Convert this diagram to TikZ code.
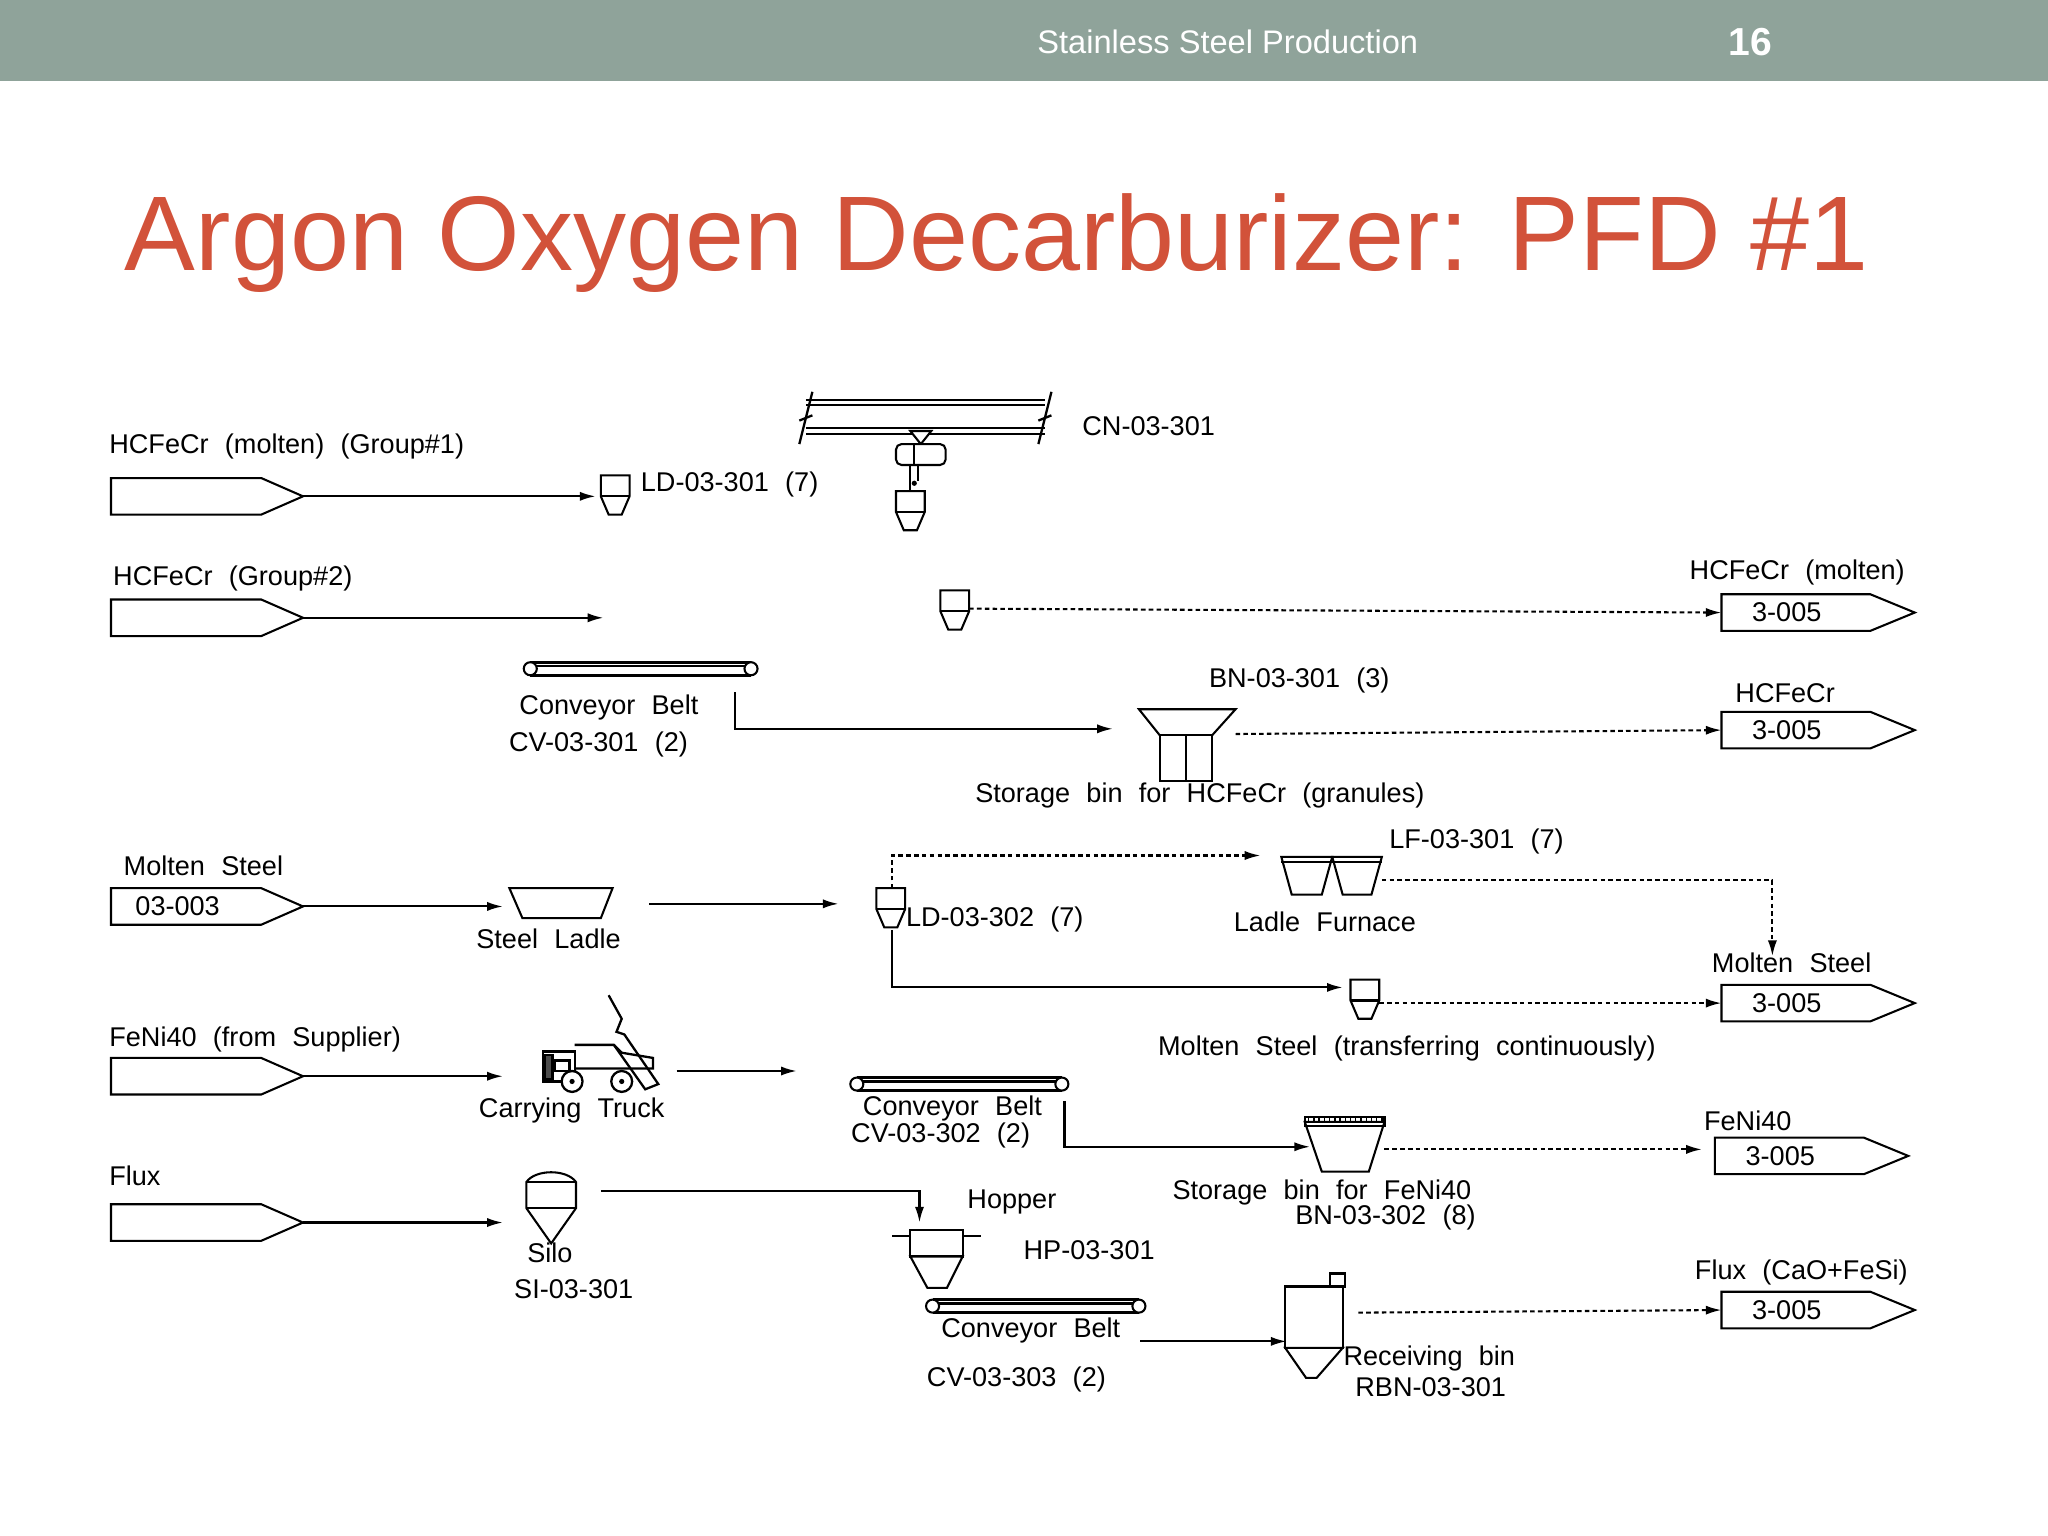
\documentclass[tikz,border=0pt]{standalone}
\usepackage{fontspec}
\setmainfont{Liberation Sans}
\usetikzlibrary{arrows.meta}
\definecolor{hdr}{HTML}{8FA39A}
\definecolor{ttl}{HTML}{D2523A}
\newcommand{\lblfont}{\fontsize{5.9}{6.7}\selectfont\spaceskip=0.6em\relax}
\tikzset{
  lbl/.style={anchor=west,inner sep=0pt,font=\lblfont},
  eq/.style={draw=black,line width=0.45pt,fill=white},
  flow/.style={draw=black,line width=0.45pt,-{Latex[length=0.12cm,width=0.07cm]}},
  dflow/.style={flow,dash pattern=on 1pt off 0.7pt},
}
\newcommand{\feedshape}[3]{% name, y, text
  \draw[eq] (85,#2-14)--(200,#2-14)--(232,#2)--(200,#2+14)--(85,#2+14)--cycle;
  \node[lbl] at (103,#2) {#3};
  \coordinate (#1) at (232,#2);}
\newcommand{\outshape}[3]{% name, y, x
  \draw[eq] (#3,#2-14)--(#3+114,#2-14)--(#3+148,#2)--(#3+114,#2+14)--(#3,#2+14)--cycle;
  \node[lbl,anchor=center] at (#3+50,#2) {3-005};
  \coordinate (#1) at (#3,#2);}
\newcommand{\ladleshape}[3]{% x left, y top, name
  \draw[eq] (#1,#2)--(#1+22,#2)--(#1+22,#2+16)--(#1+16,#2+30)--(#1+6,#2+30)--(#1,#2+16)--cycle;
  \draw[line width=0.45pt] (#1,#2+16)--(#1+22,#2+16);
  \coordinate (#3) at (#1-4,#2+16);}
\newcommand{\conveyorshape}[3]{% x1,x2,y
  \draw[line width=0.6pt] (#1,#3-5)--(#2,#3-5) (#1,#3+5)--(#2,#3+5) (#1,#3-2)--(#2,#3-2);
  \draw[eq] (#1,#3) circle (5) (#2,#3) circle (5);}
\begin{document}
\begin{tikzpicture}[x=0.01cm,y=-0.01cm]
\useasboundingbox (0,0) rectangle (1568,1176);
\fill[white] (0,0) rectangle (1568,1176);
\fill[hdr] (0,0) rectangle (1568,62);
\node[text=white,font=\fontsize{7.1}{8}\selectfont] (hd) at (940,32) {Stainless Steel Production};
\node[text=white,font=\fontsize{8.5}{9}\selectfont\bfseries] (pg) at (1340,32) {16};
\node[text=ttl,anchor=base west,inner sep=0pt,font=\fontsize{23.1}{26}\selectfont] (title) at (95,207) {Argon Oxygen Decarburizer: PFD \#1};

% feed 1
\feedshape{f1}{380}{}
\node[lbl] (t1) at (83,342) {HCFeCr (molten) (Group\#1)};
\ladleshape{460}{364}{ld1}
\draw[flow] (f1) -- (ld1);
\node[lbl] (t2) at (490,371) {LD-03-301 (7)};
% crane
\draw[line width=0.4pt] (617,306)--(800,306) (617,310)--(800,310) (617,328)--(800,328) (617,332)--(800,332);
\draw[line width=0.5pt] (622,300)--(612,340) (805,300)--(795,340);
\draw[line width=0.5pt] (612,322)--(622,318) (795,322)--(805,318);
\draw[eq] (697,330)--(713,330)--(705,340)--cycle;
\draw[eq,rounded corners=1.2pt] (686,340) rectangle (724,356);
\draw[line width=0.45pt] (700,340)--(700,356) (697,356)--(697,376) (703,356)--(703,368);
\fill (700,370) circle (2);
\ladleshape{686}{376}{cr}
\node[lbl] (t3) at (828,326) {CN-03-301};

% feed 2
\feedshape{f2}{473}{}
\node[lbl] (t4) at (86,443) {HCFeCr (Group\#2)};
\coordinate (e2) at (462,473);
\draw[flow] (f2) -- (e2);
\ladleshape{720}{452}{ld2}
\outshape{o1}{469}{1318}
\node[lbl] (t5) at (1293,438) {HCFeCr (molten)};
\draw[dflow] (742,466) -- (o1);

% conveyor 1
\conveyorshape{406}{575}{512}
\node[lbl] (t6) at (397,542) {Conveyor Belt};
\node[lbl] (t7) at (389,570) {CV-03-301 (2)};
\coordinate (c1) at (563,530);
\draw[eq] (872,543)--(946,543)--(928,563)--(888,563)--cycle;
\draw[eq] (888,563) rectangle (928,598);
\draw[line width=0.45pt] (908,563)--(908,598);
\coordinate (bn1) at (852,558);
\draw[flow] (c1) |- (bn1);
\node[lbl] (t8) at (925,521) {BN-03-301 (3)};
\node[lbl] (t9) at (746,609) {Storage bin for HCFeCr (granules)};
\outshape{o2}{559}{1318}
\node[lbl] (t10) at (1328,531) {HCFeCr};
\draw[dflow] (946,562) -- (o2);

% molten steel
\feedshape{f3}{694}{03-003}
\node[lbl] (t11) at (94,663) {Molten Steel};
\draw[eq] (390,680)--(469,680)--(460,703)--(400,703)--cycle;
\coordinate (sl) at (385,694);
\draw[flow] (f3) -- (sl);
\node[lbl] (t12) at (364,719) {Steel Ladle};
\coordinate (sl2) at (497,692);
\coordinate (ld3in) at (642,692);
\draw[flow] (sl2) -- (ld3in);
\ladleshape{671}{680}{ld3}
\node[lbl] (t13) at (693,704) {LD-03-302 (7)};
\draw[eq] (981,656)--(1020,656)--(1012,685)--(989,685)--cycle;
\draw[eq] (1020,656)--(1058,656)--(1050,685)--(1028,685)--cycle;
\draw[line width=0.45pt] (981,660)--(1058,660);
\coordinate (lf) at (965,655);
\draw[dflow] (683,680) |- (lf);
\node[lbl] (t14) at (1063,644) {LF-03-301 (7)};
\node[lbl] (t15) at (944,706) {Ladle Furnace};
\outshape{o3}{768}{1318}
\coordinate (lfo) at (1058,674);
\coordinate (ms) at (1357,732);
\draw[dflow] (lfo) -| (ms);
\node[lbl] (t16) at (1310,737) {Molten Steel};
\ladleshape{1034}{750}{ld4}
\draw[flow] (683,712) |- (1028,756);
\draw[dflow] (1056,768) -- (o3);
\node[lbl] (t17) at (886,803) {Molten Steel (transferring continuously)};

% FeNi40
\feedshape{f4}{824}{}
\node[lbl] (t18) at (83,796) {FeNi40 (from Supplier)};
\coordinate (tr) at (385,824);
\draw[flow] (f4) -- (tr);
% truck
\begin{scope}[line width=0.5pt]
\draw[fill=white] (416,805) rectangle (440,828);
\draw[fill=black!70] (417,808) rectangle (423,826);
\draw (440,800) -- (470,800) -- (476,806) -- (500,810) -- (500,818) -- (440,818);
\draw (466,762) -- (476,780) -- (472,790) -- (478,792) -- (504,830) -- (494,834) -- (470,800);
\draw[fill=white] (438,828) circle (8) (476,828) circle (8);
\fill (438,828) circle (2) (476,828) circle (2);
\draw (425,812) rectangle (436,820);
\end{scope}
\node[lbl] (t19) at (366,850) {Carrying Truck};
\coordinate (tro) at (518,820);
\coordinate (cv2) at (610,820);
\draw[flow] (tro) -- (cv2);
\conveyorshape{656}{813}{830}
\node[lbl] (t20) at (660,849) {Conveyor Belt};
\node[lbl] (t21) at (651,869) {CV-03-302 (2)};
\draw[eq] (999,859)--(1060,859)--(1048,897)--(1012,897)--cycle;
\draw[line width=0.45pt] (999,855) rectangle (1060,862);
\foreach \i in {1002,1006,...,1058} \draw[line width=0.3pt] (\i,855)--(\i,859);
\coordinate (bn2) at (1003,878);
\draw[flow] (815,843) |- (bn2);
\node[lbl] (t22) at (897,913) {Storage bin for FeNi40};
\node[lbl] (t23) at (991,932) {BN-03-302 (8)};
\outshape{o4}{885}{1313}
\node[lbl] (t24) at (1304,858) {FeNi40};
\coordinate (o4a) at (1303,880);
\draw[dflow] (1060,880) -- (o4a);

% flux
\feedshape{f5}{936}{}
\node[lbl] (t25) at (83,900) {Flux};
\coordinate (si) at (385,936);
\draw[flow] (f5) -- (si);
\draw[eq] (403,925) -- (403,905) .. controls (410,895) and (434,895) .. (441,905) -- (441,925) -- (422,952) -- cycle;
\draw[line width=0.4pt] (403,905)--(441,905) (403,925)--(441,925);
\node[lbl] (t26) at (403,959) {Silo};
\node[lbl] (t27) at (393,987) {SI-03-301};
\coordinate (si2) at (460,912);
\coordinate (hp) at (704,936);
\draw[flow] (si2) -| (hp);
\draw[eq] (697,942) rectangle (737,962);
\draw[eq] (697,962) -- (737,962) -- (725,986) -- (710,986) -- cycle;
\draw[line width=0.4pt] (683,946)--(697,946) (737,946)--(751,946);
\node[lbl] (t28) at (740,920) {Hopper};
\node[lbl] (t29) at (783,957) {HP-03-301};
\conveyorshape{714}{872}{1000}
\node[lbl] (t30) at (720,1019) {Conveyor Belt};
\node[lbl] (t31) at (709,1056) {CV-03-303 (2)};
\draw[eq] (984,985) rectangle (1028,1032);
\draw[eq] (984,1032) -- (1028,1032) -- (1008,1055) -- (1000,1055) -- cycle;
\draw[eq] (1018,975) rectangle (1030,985);
\coordinate (rb) at (985,1027);
\draw[flow] (873,1027) -- (rb);
\node[lbl] (t32) at (1028,1040) {Receiving bin};
\node[lbl] (t33) at (1037,1062) {RBN-03-301};
\outshape{o5}{1003}{1318}
\node[lbl] (t34) at (1297,974) {Flux (CaO+FeSi)};
\draw[dflow] (1040,1005) -- (o5);
\end{tikzpicture}
\end{document}
